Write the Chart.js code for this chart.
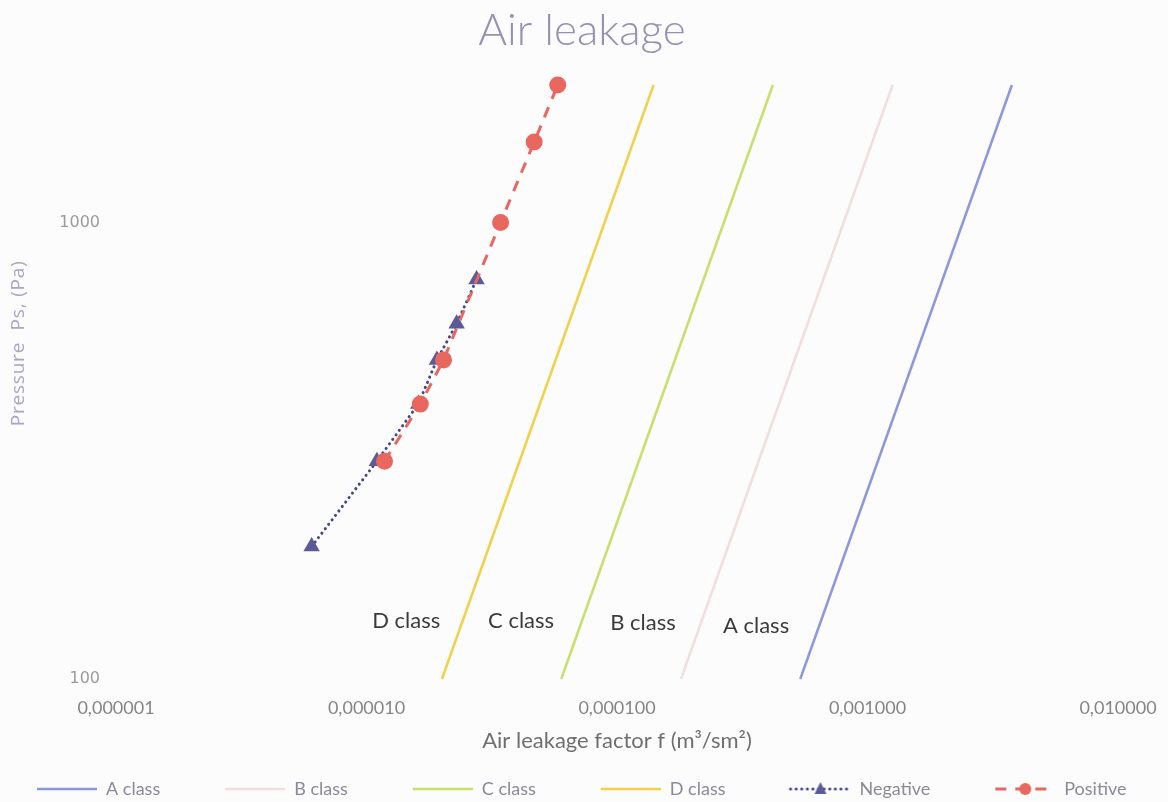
<!DOCTYPE html>
<html>
<head>
<meta charset="utf-8">
<script src="https://cdn.jsdelivr.net/npm/chart.js@4.4.1/dist/chart.umd.min.js"></script>
<style>
  html, body { margin: 0; padding: 0; background: #fcfcfd; }
  #wrap { width: 1168px; height: 802px; }
</style>
</head>
<body>
<div id="wrap"><canvas id="leakChart" width="1168" height="802"></canvas></div>
<script>
// Leakage class limits (two end points each: f in m3/(s*m2), p in Pa)
const classNames = ['A class', 'B class', 'C class', 'D class'];
const classFactor = [
    [0.000539, 0.00377],
    [0.000180, 0.00126],
    [0.0000599, 0.000419],
    [0.0000200, 0.000140]
];
const classPressure = [100, 2000];

// Measured points
const negPressure = [195, 300, 400, 500, 600, 750];
const negFactor = [0.00000604, 0.0000110, 0.0000161, 0.0000191, 0.0000229, 0.0000275];
const posPressure = [300, 400, 500, 1000, 1500, 2000];
const posFactor = [0.0000118, 0.0000164, 0.0000203, 0.0000343, 0.0000467, 0.0000580];

// Axis ticks
const xTicks = [0.000001, 0.00001, 0.0001, 0.001, 0.01];
const yTicks = [100, 1000];

// Text labels next to the class lines
const classLabelText = ['D class', 'C class', 'B class', 'A class'];
const classLabelFactor = [0.0000144, 0.0000414, 0.000127, 0.000359];
const classLabelPressure = [134, 134, 133, 131];

const classColors = ['#8d97dd', '#f1dede', '#c8df6c', '#f3d04a'];
const negColor = '#45458a';
const posColor = '#e8675e';

function toPoints(xs, ys) {
    return xs.map((x, i) => ({ x: x, y: ys[i] }));
}

// Small images for the legend: empty gap, then line sample with a marker
const LEG_GAP = 60, LEG_LINE = 60;
function legendImage(ds) {
    const c = document.createElement('canvas');
    c.width = LEG_GAP + LEG_LINE;
    c.height = 16;
    const g = c.getContext('2d');
    g.strokeStyle = ds.borderColor;
    g.lineWidth = ds.borderWidth;
    g.lineCap = ds.borderCapStyle || 'butt';
    g.setLineDash(ds.borderDash || []);
    g.beginPath();
    g.moveTo(LEG_GAP, 8);
    g.lineTo(LEG_GAP + LEG_LINE, 8);
    g.stroke();
    g.setLineDash([]);
    const cx = LEG_GAP + LEG_LINE / 2;
    g.fillStyle = ds.pointBackgroundColor;
    if (ds.pointStyle === 'circle' && ds.pointRadius > 0) {
        g.beginPath();
        g.arc(cx, 8, 6, 0, Math.PI * 2);
        g.fill();
    } else if (ds.pointStyle === 'triangle' && ds.pointRadius > 0) {
        g.beginPath();
        g.moveTo(cx, 1);
        g.lineTo(cx + 6, 13);
        g.lineTo(cx - 6, 13);
        g.closePath();
        g.fill();
    }
    return c;
}

const datasets = classNames.map((name, i) => ({
    label: name,
    data: toPoints(classFactor[i], classPressure),
    borderColor: classColors[i],
    borderWidth: 2.5,
    pointRadius: 0,
    pointStyle: 'line',
    pointBackgroundColor: classColors[i],
    order: 2
}));
datasets.push({
    label: 'Negative',
    data: toPoints(negFactor, negPressure),
    borderColor: negColor,
    borderWidth: 3,
    borderDash: [0.1, 5.5],
    borderCapStyle: 'round',
    pointStyle: 'triangle',
    pointRadius: 6.5,
    pointBackgroundColor: '#5b5b98',
    pointBorderColor: '#5b5b98',
    order: 1
});
datasets.push({
    label: 'Positive',
    data: toPoints(posFactor, posPressure),
    borderColor: posColor,
    borderWidth: 3,
    borderDash: [11, 9],
    pointStyle: 'circle',
    pointRadius: 7,
    pointBackgroundColor: posColor,
    pointBorderColor: posColor,
    order: 0
});
datasets.forEach(ds => { ds.clip = false; ds.fill = false; ds.tension = 0; });

const legendImages = datasets.map(legendImage);

// Background, title, class labels and y axis title
const extras = {
    id: 'extras',
    beforeDraw(chart) {
        const ctx = chart.ctx;
        ctx.save();
        ctx.fillStyle = '#fcfcfd';
        ctx.fillRect(0, 0, chart.width, chart.height);
        ctx.restore();
    },
    afterDraw(chart) {
        const ctx = chart.ctx;
        const xs = chart.scales.x, ys = chart.scales.y;
        const area = chart.chartArea;
        ctx.save();
        ctx.textAlign = 'center';
        ctx.textBaseline = 'middle';
        // chart title
        ctx.font = '300 44px Lato';
        ctx.fillStyle = '#9591b0';
        ctx.fillText('Air leakage', chart.width / 2 - 2, 31);
        // class labels
        ctx.font = '22px Lato';
        ctx.fillStyle = '#3b3b3b';
        classLabelText.forEach((t, i) => {
            ctx.fillText(t, xs.getPixelForValue(classLabelFactor[i]), ys.getPixelForValue(classLabelPressure[i]));
        });
        // y axis title
        ctx.translate(19, area.top + (area.bottom - area.top) * 0.435);
        ctx.rotate(-Math.PI / 2);
        ctx.font = '19px "Open Sans"';
        ctx.letterSpacing = '0.8px';
        ctx.fillStyle = '#a8a6c6';
        ctx.fillText('Pressure  Ps, (Pa)', 0, 0);
        ctx.restore();
    }
};

new Chart(document.getElementById('leakChart').getContext('2d'), {
    type: 'line',
    data: { datasets: datasets },
    plugins: [extras],
    options: {
        responsive: false,
        animation: false,
        // negative left padding lets the legend start near the left edge
        layout: { padding: { left: -28, right: 0, top: 85, bottom: -6 } },
        scales: {
            x: {
                type: 'logarithmic',
                min: 0.000001,
                max: 0.01,
                grid: { display: false, drawTicks: false },
                border: { display: false },
                afterBuildTicks: (scale) => { scale.ticks = xTicks.map(v => ({ value: v })); },
                afterFit: (scale) => { scale.height = 96; scale.paddingRight = 50; },
                ticks: {
                    autoSkip: false,
                    maxRotation: 0,
                    padding: 18,
                    color: '#858585',
                    font: { family: 'Lato', size: 18 },
                    callback: (v) => Number(v).toFixed(6).replace('.', ',')
                },
                title: {
                    display: true,
                    text: 'Air leakage factor f (m³/sm²)',
                    color: '#6f6f6f',
                    font: { family: 'Lato', size: 22 },
                    padding: { top: 0, bottom: 21 }
                }
            },
            y: {
                type: 'logarithmic',
                min: 100,
                max: 2000,
                grid: { display: false, drawTicks: false },
                border: { display: false },
                afterBuildTicks: (scale) => { scale.ticks = yTicks.map(v => ({ value: v })); },
                afterFit: (scale) => { scale.width = 144; },
                ticks: {
                    autoSkip: false,
                    padding: 16,
                    color: '#9b9b9b',
                    font: { family: 'DejaVu Sans', size: 16 },
                    callback: (v) => String(v)
                }
            }
        },
        plugins: {
            title: { display: false },
            legend: {
                position: 'bottom',
                align: 'start',
                labels: {
                    usePointStyle: true,
                    pointStyleWidth: LEG_GAP + LEG_LINE,
                    padding: 5,
                    color: '#8a8a98',
                    font: { family: 'Lato', size: 18 },
                    generateLabels: (chart) => chart.data.datasets.map((ds, i) => ({
                        text: ds.label,
                        pointStyle: legendImages[i],
                        fillStyle: ds.borderColor,
                        strokeStyle: ds.borderColor,
                        fontColor: '#8a8a98',
                        lineWidth: 0,
                        hidden: false,
                        datasetIndex: i
                    }))
                }
            },
            tooltip: { enabled: false }
        }
    }
});
</script>
</body>
</html>
